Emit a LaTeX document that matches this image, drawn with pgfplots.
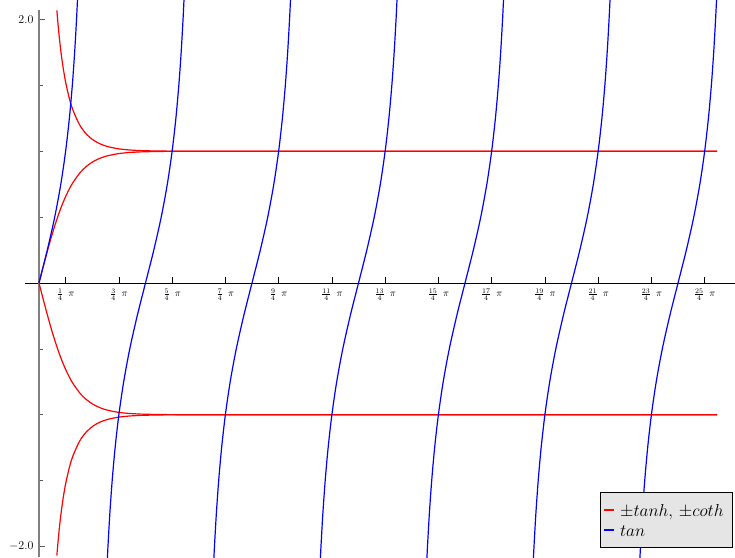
\documentclass[border=0pt]{standalone}
\usepackage{pgfplots}
\pgfplotsset{compat=1.18}
\begin{document}
\begin{tikzpicture}
\begin{axis}[
scale only axis,
width=709.9pt,
height=547.4pt,
xmin=-0.41, xmax=20.53,
ymin=-2.08, ymax=2.075,
clip=false,
axis lines=middle,
separate axis lines,
axis line style={-},
x axis line style={black, line width=0.9pt},
y axis line style={gray, line width=2.7pt},
tick align=inside,
major tick length=6pt,
minor tick length=4pt,
xtick={0.785398,2.356194,3.926991,5.497787,7.068583,8.639380,10.210176,11.780972,13.351769,14.922565,16.493361,18.064158,19.634954},
xticklabels={$\frac{1}{4}\hspace{5pt}\pi$,$\frac{3}{4}\hspace{5pt}\pi$,$\frac{5}{4}\hspace{5pt}\pi$,$\frac{7}{4}\hspace{5pt}\pi$,$\frac{9}{4}\hspace{5pt}\pi$,$\frac{11}{4}\hspace{5pt}\pi$,$\frac{13}{4}\hspace{5pt}\pi$,$\frac{15}{4}\hspace{5pt}\pi$,$\frac{17}{4}\hspace{5pt}\pi$,$\frac{19}{4}\hspace{5pt}\pi$,$\frac{21}{4}\hspace{5pt}\pi$,$\frac{23}{4}\hspace{5pt}\pi$,$\frac{25}{4}\hspace{5pt}\pi$},
xticklabel style={font=\normalsize, yshift=-2pt},
ytick={-2,2},
yticklabels={$-2.0$,$2.0$},
minor ytick={-1.5,-1,-0.5,0.5,1,1.5},
yticklabel style={font=\fontsize{12.5}{14}\selectfont, xshift=-2pt},
xtick style={black, line width=0.6pt},
ytick style={gray!70!black, line width=0.6pt},
legend cell align=left,
legend style={at={(axis cs:20.47,-2.011)}, anchor=south east, fill=gray!20, draw=black, line width=0.8pt,
  font=\fontsize{16}{18}\selectfont, inner xsep=3.5pt, inner ysep=7.5pt, row sep=0pt, column sep=4pt,
  nodes={inner sep=1.5pt, text height=15pt, text depth=2pt}},
legend image code/.code={\draw[#1, line width=1.2pt] (0pt,0pt) -- (10pt,0pt);},
]
% thick grey y axis line
\addplot[gray, line width=2.7pt, forget plot] coordinates {(0,-2.08) (0,2.075)};
% +tanh
\addplot[red, line width=1.2pt, smooth] coordinates {
(0,0) (0.1,0.09967) (0.2,0.19738) (0.3,0.29131) (0.4,0.37995) (0.5,0.46212) (0.6,0.53705) (0.7,0.60437)
(0.8,0.66404) (0.9,0.71630) (1.0,0.76159) (1.2,0.83365) (1.4,0.88535) (1.6,0.92167) (1.8,0.94681)
(2.0,0.96403) (2.3,0.98010) (2.6,0.98903) (3.0,0.99505) (3.5,0.99818) (4,0.99933) (5,0.99991) (6,0.99999) (20,1)};
\addlegendentry{$\pm tanh,\, \pm coth$\hspace*{4pt}}
% -tanh
\addplot[red, line width=1.2pt, smooth, forget plot] coordinates {
(0,0) (0.1,-0.09967) (0.2,-0.19738) (0.3,-0.29131) (0.4,-0.37995) (0.5,-0.46212) (0.6,-0.53705) (0.7,-0.60437)
(0.8,-0.66404) (0.9,-0.71630) (1.0,-0.76159) (1.2,-0.83365) (1.4,-0.88535) (1.6,-0.92167) (1.8,-0.94681)
(2.0,-0.96403) (2.3,-0.98010) (2.6,-0.98903) (3.0,-0.99505) (3.5,-0.99818) (4,-0.99933) (5,-0.99991) (6,-0.99999) (20,-1)};
% +coth
\addplot[red, line width=1.2pt, smooth, forget plot] coordinates {
(0.527,2.07) (0.55,1.99792) (0.6,1.86202) (0.65,1.74926) (0.7,1.65462) (0.75,1.57443) (0.8,1.50594)
(0.9,1.39607) (1.0,1.31304) (1.2,1.19954) (1.4,1.12950) (1.6,1.08499) (1.8,1.05618) (2.0,1.03731)
(2.3,1.02031) (2.6,1.01109) (3.0,1.00497) (3.5,1.00182) (4,1.00067) (5,1.00009) (6,1.00001) (20,1)};
% -coth
\addplot[red, line width=1.2pt, smooth, forget plot] coordinates {
(0.527,-2.07) (0.55,-1.99792) (0.6,-1.86202) (0.65,-1.74926) (0.7,-1.65462) (0.75,-1.57443) (0.8,-1.50594)
(0.9,-1.39607) (1.0,-1.31304) (1.2,-1.19954) (1.4,-1.12950) (1.6,-1.08499) (1.8,-1.05618) (2.0,-1.03731)
(2.3,-1.02031) (2.6,-1.01109) (3.0,-1.00497) (3.5,-1.00182) (4,-1.00067) (5,-1.00009) (6,-1.00001) (20,-1)};
% tan, branch by branch
\addplot[blue, line width=1.2pt, smooth] coordinates {
(0,0) (0.24498,0.25) (0.46365,0.5) (0.64350,0.75) (0.78540,1) (0.89606,1.25) (0.98279,1.5) (1.05165,1.75) (1.10715,2) (1.1355,2.15)};
\addlegendentry{$tan$}
\addplot[blue, line width=1.2pt, smooth, forget plot] coordinates {
(2.00609,-2.15) (2.03444,-2) (2.08994,-1.75) (2.15880,-1.5) (2.24553,-1.25) (2.35619,-1) (2.49809,-0.75) (2.67794,-0.5) (2.89661,-0.25)
(3.14159,0) (3.38657,0.25) (3.60524,0.5) (3.78509,0.75) (3.92699,1) (4.03765,1.25) (4.12438,1.5) (4.19324,1.75) (4.24874,2) (4.27709,2.15)};
\addplot[blue, line width=1.2pt, smooth, forget plot] coordinates {
(5.14769,-2.15) (5.17604,-2) (5.23154,-1.75) (5.30040,-1.5) (5.38713,-1.25) (5.49779,-1) (5.63969,-0.75) (5.81954,-0.5) (6.03821,-0.25)
(6.28319,0) (6.52817,0.25) (6.74684,0.5) (6.92669,0.75) (7.06859,1) (7.17925,1.25) (7.26598,1.5) (7.33484,1.75) (7.39034,2) (7.41869,2.15)};
\addplot[blue, line width=1.2pt, smooth, forget plot] coordinates {
(8.28928,-2.15) (8.31763,-2) (8.37313,-1.75) (8.44199,-1.5) (8.52872,-1.25) (8.63938,-1) (8.78128,-0.75) (8.96113,-0.5) (9.17980,-0.25)
(9.42478,0) (9.66976,0.25) (9.88843,0.5) (10.06828,0.75) (10.21018,1) (10.32084,1.25) (10.40757,1.5) (10.47643,1.75) (10.53193,2) (10.56028,2.15)};
\addplot[blue, line width=1.2pt, smooth, forget plot] coordinates {
(11.43087,-2.15) (11.45922,-2) (11.51472,-1.75) (11.58358,-1.5) (11.67031,-1.25) (11.78097,-1) (11.92287,-0.75) (12.10272,-0.5) (12.32139,-0.25)
(12.56637,0) (12.81135,0.25) (13.03002,0.5) (13.20987,0.75) (13.35177,1) (13.46243,1.25) (13.54916,1.5) (13.61802,1.75) (13.67352,2) (13.70187,2.15)};
\addplot[blue, line width=1.2pt, smooth, forget plot] coordinates {
(14.57246,-2.15) (14.60081,-2) (14.65631,-1.75) (14.72517,-1.5) (14.81190,-1.25) (14.92256,-1) (15.06446,-0.75) (15.24431,-0.5) (15.46298,-0.25)
(15.70796,0) (15.95294,0.25) (16.17161,0.5) (16.35146,0.75) (16.49336,1) (16.60402,1.25) (16.69075,1.5) (16.75961,1.75) (16.81511,2) (16.84346,2.15)};
\addplot[blue, line width=1.2pt, smooth, forget plot] coordinates {
(17.71406,-2.15) (17.74241,-2) (17.79791,-1.75) (17.86677,-1.5) (17.95350,-1.25) (18.06416,-1) (18.20606,-0.75) (18.38591,-0.5) (18.60458,-0.25)
(18.84956,0) (19.09454,0.25) (19.31321,0.5) (19.49306,0.75) (19.63496,1) (19.74562,1.25) (19.83235,1.5) (19.90121,1.75) (19.95671,2) (19.98506,2.15)};
\coordinate (bbsw) at (axis cs:-1.15,-2.08);
\coordinate (bbne) at (axis cs:20.53,2.148);
\end{axis}
\pgfresetboundingbox
\useasboundingbox (bbsw) rectangle (bbne);
\end{tikzpicture}
\end{document}
